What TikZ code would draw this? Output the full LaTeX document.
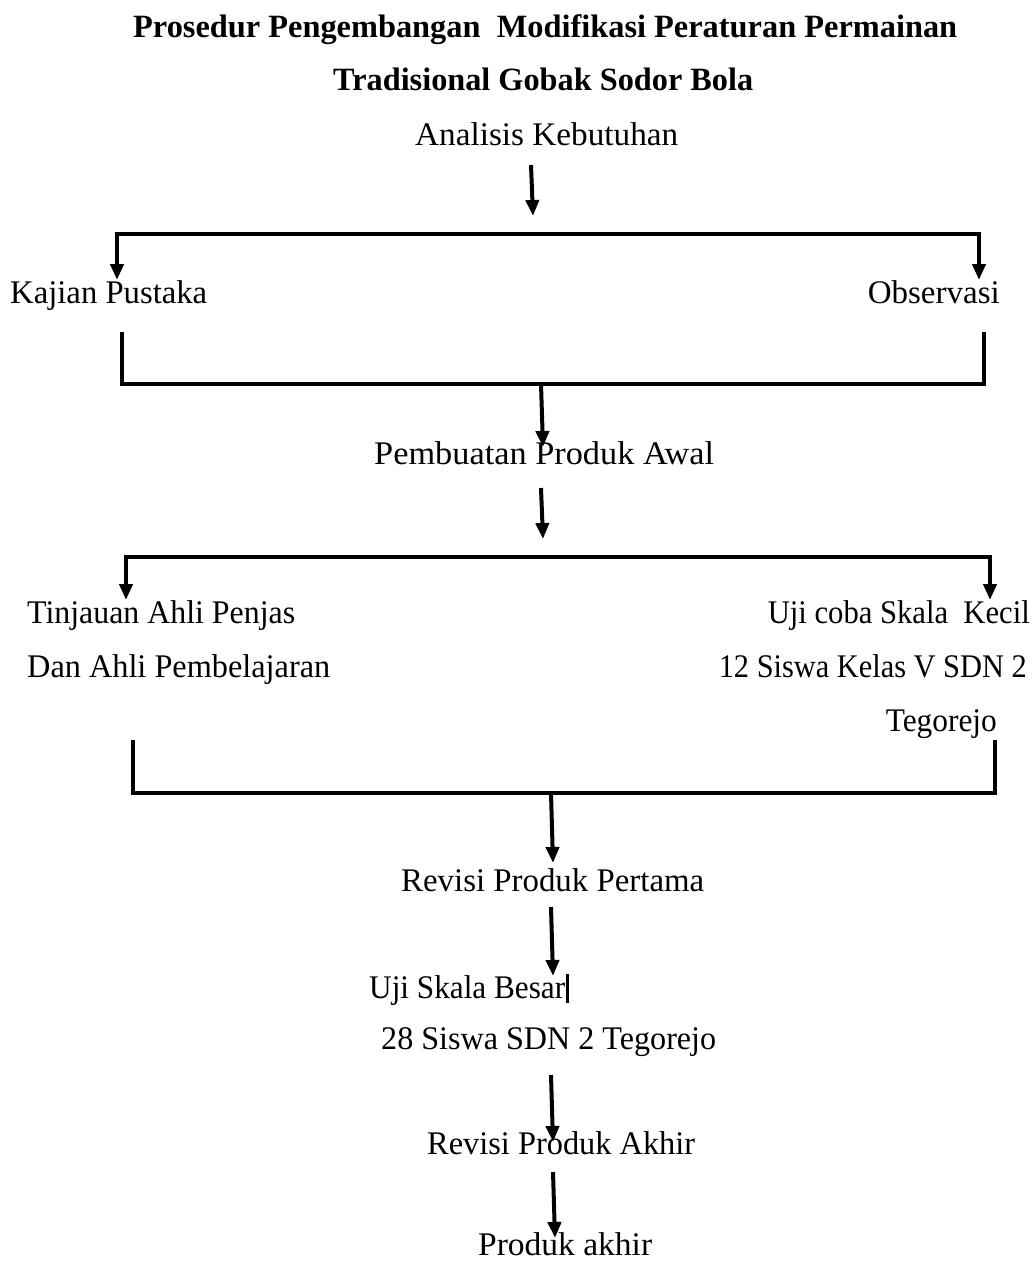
\documentclass[tikz,border=0pt]{standalone}
\usepackage{fontspec}
\usepackage{graphicx}
\setmainfont{Liberation Serif}
\usetikzlibrary{arrows.meta}
\newcommand\fw[2]{\resizebox{#1pt}{\height}{#2}}
\begin{document}
\begin{tikzpicture}[x=1pt,y=-1pt,
  txt/.style={inner sep=0pt,font=\fontsize{33}{38}\selectfont},
  ttl/.style={inner sep=0pt,font=\fontsize{32.5}{38}\selectfont\bfseries},
  flow/.style={line width=4pt,-{Triangle[length=16pt,width=13pt]}},
  brk/.style={line width=4.5pt,line cap=rect,line join=miter}]
\useasboundingbox (0,0) rectangle (1032,1263);
% titles
\node[ttl,anchor=base west] (t1) at (133,38) {\fw{824}{Prosedur Pengembangan\ \ Modifikasi Peraturan Permainan}};
\node[ttl,anchor=base west] (t2) at (333,90) {\fw{420}{Tradisional Gobak Sodor Bola}};
% nodes
\node[txt,anchor=base west] (ana) at (415,145) {\fw{263}{Analisis Kebutuhan}};
\node[txt,anchor=base west] (kaj) at (10,303) {\fw{197}{Kajian Pustaka}};
\node[txt,anchor=base east] (obs) at (1000,303) {\fw{132}{Observasi}};
\node[txt,anchor=base west] (pem) at (374,464) {\fw{340}{Pembuatan Produk Awal}};
\node[txt,anchor=base west] (tin1) at (27,623) {\fw{268}{Tinjauan Ahli Penjas}};
\node[txt,anchor=base west] (tin2) at (27,677) {\fw{303}{Dan Ahli Pembelajaran}};
\node[txt,anchor=base east] (uji1) at (1030,623) {\fw{262}{Uji coba Skala\ \ Kecil}};
\node[txt,anchor=base east] (uji2) at (1027,677) {\fw{308}{12 Siswa Kelas V SDN 2}};
\node[txt,anchor=base east] (uji3) at (997,731) {\fw{111}{Tegorejo}};
\node[txt,anchor=base west] (rev1) at (401,891) {\fw{303}{Revisi Produk Pertama}};
\node[txt,anchor=base west] (ujb1) at (369,998) {\fw{196}{Uji Skala Besar}};
\node[txt,anchor=base west] (ujb2) at (381,1049) {\fw{335}{28 Siswa SDN 2 Tegorejo}};
\node[txt,anchor=base west] (rev2) at (427,1154) {\fw{268}{Revisi Produk Akhir}};
\node[txt,anchor=base west] (prod) at (478,1255) {\fw{174}{Produk akhir}};
% cursor bar
\coordinate (cur1) at (567,974);
\coordinate (cur2) at (567,1003);
\draw[line width=3pt] (cur1) -- (cur2);
% arrow 1
\coordinate (a1s) at (531,165);
\coordinate (a1e) at (533,216);
\draw[flow] (a1s) -- (a1e);
% top bracket 1
\coordinate (b1l) at (117,234);
\coordinate (b1r) at (979,234);
\coordinate (b1lt) at (117,280);
\coordinate (b1rt) at (979,280);
\draw[brk] (b1l) -- (b1r);
\draw[flow] (b1l) -- (b1lt);
\draw[flow] (b1r) -- (b1rt);
% bottom bracket 1
\coordinate (c1lt) at (122,334);
\coordinate (c1rt) at (984,334);
\coordinate (c1l) at (122,384);
\coordinate (c1r) at (984,384);
\draw[brk] (c1lt) -- (c1l) -- (c1r) -- (c1rt);
\coordinate (c1m) at (541,384);
\coordinate (a2e) at (543,447);
\draw[flow] (c1m) -- (a2e);
% arrow 3
\coordinate (a3s) at (541,488);
\coordinate (a3e) at (543,539);
\draw[flow] (a3s) -- (a3e);
% top bracket 2
\coordinate (b2l) at (126,557);
\coordinate (b2r) at (990,557);
\coordinate (b2lt) at (126,600);
\coordinate (b2rt) at (990,600);
\draw[brk] (b2l) -- (b2r);
\draw[flow] (b2l) -- (b2lt);
\draw[flow] (b2r) -- (b2rt);
% bottom bracket 2
\coordinate (c2lt) at (133,742);
\coordinate (c2rt) at (995,742);
\coordinate (c2l) at (133,793);
\coordinate (c2r) at (995,793);
\draw[brk] (c2lt) -- (c2l) -- (c2r) -- (c2rt);
\coordinate (c2m) at (551,793);
\coordinate (a4e) at (553,863);
\draw[flow] (c2m) -- (a4e);
% arrow 5
\coordinate (a5s) at (551,907);
\coordinate (a5e) at (553,976);
\draw[flow] (a5s) -- (a5e);
% arrow 6
\coordinate (a6s) at (551,1075);
\coordinate (a6e) at (553,1142);
\draw[flow] (a6s) -- (a6e);
% arrow 7
\coordinate (a7s) at (553,1172);
\coordinate (a7e) at (555,1238);
\draw[flow] (a7s) -- (a7e);
\end{tikzpicture}
\end{document}
